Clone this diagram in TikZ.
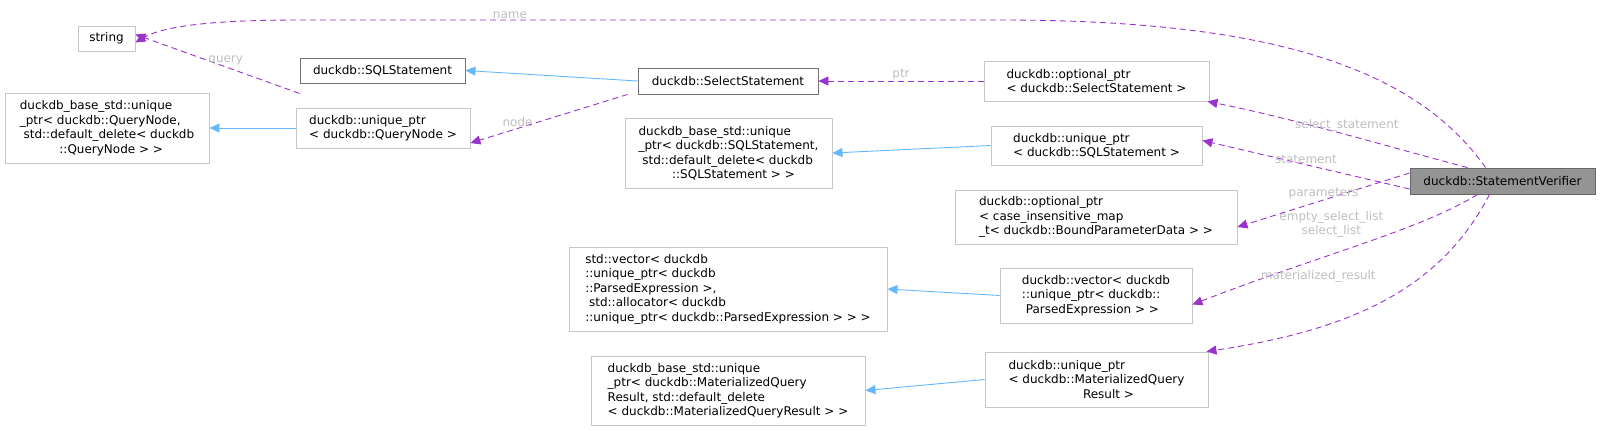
\documentclass[tikz,border=0pt]{standalone}
\usepackage{fontspec}
\setmainfont{DejaVu Sans}
\usetikzlibrary{arrows.meta}
\definecolor{inh}{HTML}{63B8FF}
\definecolor{use}{HTML}{9A32CD}
\definecolor{lab}{HTML}{BEBEBE}
\tikzset{
 box/.style={draw=black!22,fill=white,line width=0.9pt,inner sep=2pt,align=left,font=\fontsize{12}{14.5}\selectfont,anchor=center},
 dbox/.style={box,draw=black!55},
 inherit/.style={draw=inh,-{Triangle[length=10pt,width=9pt]},line width=0.9pt},
 usage/.style={draw=use,-{Triangle[length=10pt,width=9pt]},line width=0.9pt,dash pattern=on 6pt off 4pt},
 lbl/.style={text=lab,font=\fontsize{12}{14.5}\selectfont,inner sep=1pt,align=center}
}
\begin{document}
\begin{tikzpicture}[x=1pt,y=-1pt]
\useasboundingbox (0,0) rectangle (1617,431);
\node[box,minimum width=57,minimum height=25] (str) at (106.5,38.5) {string};
\node[dbox,minimum width=165,minimum height=25] (sql) at (382.5,70.5) {duckdb::SQLStatement};
\node[dbox,minimum width=180,minimum height=26] (sel) at (728,81) {duckdb::SelectStatement};
\node[box,minimum width=225,minimum height=40] (osel) at (1096.5,81) {duckdb::optional\_ptr\\< duckdb::SelectStatement >};
\node[box,minimum width=204,minimum height=70] (bqn) at (107,128) {duckdb\_base\_std::unique\\\_ptr< duckdb::QueryNode,\\\ std::default\_delete< duckdb\\\hspace*{3.3em}::QueryNode > >};
\node[box,minimum width=174,minimum height=40] (uqn) at (383,128) {duckdb::unique\_ptr\\< duckdb::QueryNode >};
\node[box,minimum width=207,minimum height=70] (bsql) at (728.5,153) {duckdb\_base\_std::unique\\\_ptr< duckdb::SQLStatement,\\\ std::default\_delete< duckdb\\\hspace*{2.8em}::SQLStatement > >};
\node[box,minimum width=211,minimum height=39] (usql) at (1096.5,145.5) {duckdb::unique\_ptr\\< duckdb::SQLStatement >};
\node[draw=black!60,fill=black!42,line width=0.9pt,inner sep=2pt,font=\fontsize{12}{14.5}\selectfont,minimum width=185,minimum height=26] (sv) at (1502.5,181) {duckdb::StatementVerifier};
\node[box,minimum width=282,minimum height=54] (omap) at (1096,217) {duckdb::optional\_ptr\\< case\_insensitive\_map\\\_t< duckdb::BoundParameterData > >};
\node[box,minimum width=318,minimum height=84] (svec) at (728,289) {std::vector< duckdb\\::unique\_ptr< duckdb\\::ParsedExpression >,\\\ std::allocator< duckdb\\::unique\_ptr< duckdb::ParsedExpression > > >};
\node[box,minimum width=192,minimum height=55] (dvec) at (1096,295.5) {duckdb::vector< duckdb\\::unique\_ptr< duckdb::\\\ ParsedExpression > >};
\node[box,minimum width=274,minimum height=69] (bmq) at (728,390.5) {duckdb\_base\_std::unique\\\_ptr< duckdb::MaterializedQuery\\Result, std::default\_delete\\< duckdb::MaterializedQueryResult > >};
\node[box,minimum width=223,minimum height=55] (umq) at (1096.5,379.5) {duckdb::unique\_ptr\\< duckdb::MaterializedQuery\\\hspace*{6.2em}Result >};
% inheritance
\draw[inherit] (sel.west) -- (sql.east);
\draw[inherit] (uqn.west) -- (bqn.east);
\draw[inherit] (usql.west) -- (bsql.east);
\draw[inherit] (dvec.west) -- (svec.east);
\draw[inherit] (umq.west) -- (bmq.east);
% usage
\draw[usage] ([yshift=-10pt]sql.south west) -- node[lbl,above,pos=0.45]{query} ([yshift=4pt]str.east);
\draw[usage] ([xshift=-10pt]sel.south west) -- node[lbl,above,pos=0.7]{node} ([yshift=-15pt]uqn.east);
\draw[usage] (osel.west |- sel.east) -- node[lbl,above,pos=0.5]{ptr} (sel.east);
\draw[usage] ([xshift=-17pt]sv.north) .. controls (1410,60) and (1250,20) .. (1000,20) -- node[lbl,above,pos=0.7]{name} (300,20) .. controls (200,20) and (160,28) .. ([yshift=-4pt]str.east);
\draw[usage] ([xshift=-35pt]sv.north) .. controls (1400,150) and (1300,120) .. node[lbl,pos=0.5,above=2pt]{select\_statement} ([xshift=-2pt]osel.south east);
\draw[usage] ([yshift=-8pt]sv.west) -- node[lbl,above,pos=0.5]{statement} ([yshift=5pt]usql.east);
\draw[usage] ([yshift=8pt]sv.west) -- node[lbl,above,pos=0.5]{parameters} ([yshift=-10pt]omap.east);
\draw[usage] ([xshift=-25pt]sv.south) .. controls (1420,230) and (1320,255) .. node[lbl,pos=0.3,left=30pt]{empty\_select\_list\\select\_list} ([yshift=-9pt]dvec.east);
\draw[usage] ([xshift=-13pt]sv.south) .. controls (1440,290) and (1350,330) .. node[lbl,pos=0.35,left=45pt]{materialized\_result} ([xshift=-2pt]umq.north east);
\end{tikzpicture}
\end{document}
